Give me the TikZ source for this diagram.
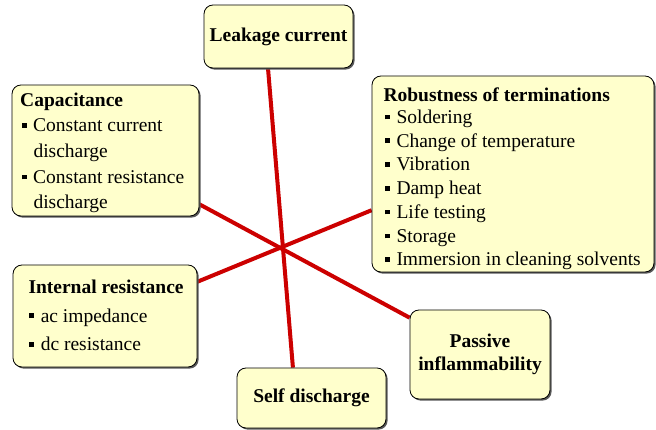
\documentclass[tikz,border=0pt]{standalone}
\usepackage{fontspec}
\setmainfont{Liberation Serif}
\usetikzlibrary{shadows,calc,backgrounds}
\definecolor{boxfill}{HTML}{FFFFCC}
\definecolor{linered}{HTML}{CC0000}
\newcommand{\bul}{\raisebox{4pt}{\rule{4.7pt}{4.7pt}}\hspace{6.6pt}}
\tikzset{
  box/.style={draw=black, line width=0.8pt, fill=boxfill, rounded corners=9pt,
    drop shadow={shadow xshift=1.6pt, shadow yshift=-1.6pt, fill=black!65, opacity=1},
    inner sep=0pt, align=center, font=\fontsize{19.5}{23}\selectfont\bfseries},
  ttl/.style={anchor=base west, inner sep=0pt, font=\fontsize{19.5}{23}\selectfont\bfseries},
  itm/.style={anchor=base west, inner sep=0pt, font=\fontsize{19.5}{23}\selectfont},
  spoke/.style={draw=linered, line width=4pt}
}
\begin{document}
\begin{tikzpicture}[x=1pt,y=-1pt]
\useasboundingbox (0,0) rectangle (656,430);
% boxes
\node[box, minimum width=149pt, minimum height=63pt] (leak) at (278.5,36.5) {Leakage current};
\node[box, minimum width=187pt, minimum height=131pt] (cap) at (105.5,150.5) {};
\node[box, minimum width=282pt, minimum height=196pt] (rob) at (513,174) {};
\node[box, minimum width=184pt, minimum height=102pt] (int) at (105,316) {};
\node[box, minimum width=149pt, minimum height=60pt] (self) at (311.5,398) {Self discharge};
\node[box, minimum width=140pt, minimum height=89pt] (pas) at (480,354.5) {Passive\\inflammability};
% capacitance text
\node[ttl] (capt) at (20,107) {Capacitance};
\node[itm] (cap1) at (21.7,132) {\bul Constant current};
\node[itm] (cap1b) at (33.3,157.5) {discharge};
\node[itm] (cap2) at (21.7,183.5) {\bul Constant resistance};
\node[itm] (cap2b) at (33.3,208.5) {discharge};
% robustness text
\node[ttl] (robt) at (383.3,101.7) {Robustness of terminations};
\node[itm] (rob1) at (385,123.3) {\bul Soldering};
\node[itm] (rob2) at (385,147.1) {\bul Change of temperature};
\node[itm] (rob3) at (385,170.9) {\bul Vibration};
\node[itm] (rob4) at (385,194.7) {\bul Damp heat};
\node[itm] (rob5) at (385,218.5) {\bul Life testing};
\node[itm] (rob6) at (385,242.3) {\bul Storage};
\node[itm] (rob7) at (385,266) {\bul Immersion in cleaning solvents};
% internal resistance text
\node[ttl] (intt) at (28.3,293.8) {Internal resistance};
\node[itm] (int1) at (29.3,322.2) {\bul ac impedance};
\node[itm] (int2) at (29.3,350.8) {\bul dc resistance};
% spokes
\begin{scope}[on background layer]
\draw[spoke] ($(leak.south west)!0.43!(leak.south east)$) -- ($(self.north west)!0.376!(self.north east)$);
\draw[spoke] ($(cap.north east)!0.908!(cap.south east)$) -- ($(pas.north west)!0.09!(pas.south west)$);
\draw[spoke] ($(int.north east)!0.167!(int.south east)$) -- ($(rob.north west)!0.684!(rob.south west)$);
\end{scope}
\end{tikzpicture}
\end{document}
